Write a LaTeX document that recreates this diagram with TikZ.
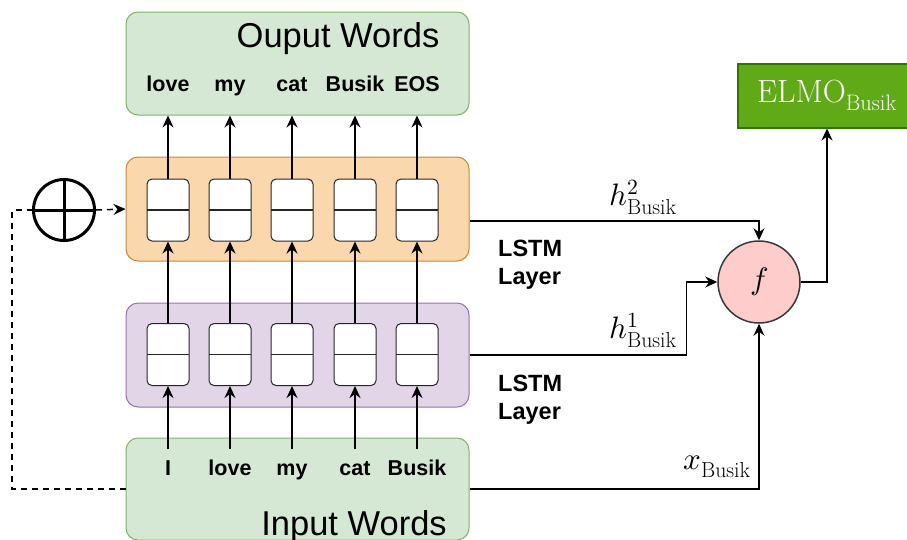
\documentclass[tikz,border=0pt]{standalone}
\usepackage{unicode-math}
\setmathfont{Latin Modern Math}
\setsansfont{Liberation Sans}
\usetikzlibrary{arrows.meta,calc}
\definecolor{gfill}{HTML}{D5E8D4}
\definecolor{gdraw}{HTML}{82B366}
\definecolor{ofill}{HTML}{FAD7AC}
\definecolor{odraw}{HTML}{C8873A}
\definecolor{pfill}{HTML}{E1D5E7}
\definecolor{pdraw}{HTML}{9673A6}
\definecolor{efill}{HTML}{60A917}
\definecolor{edraw}{HTML}{2D7600}
\definecolor{ffill}{HTML}{FFCCCC}
\definecolor{fdraw}{HTML}{36393D}
\begin{document}
\begin{tikzpicture}[x=1pt,y=-1pt,
  bigbox/.style={rectangle, rounded corners=12pt, minimum width=343pt, line width=1pt},
  cellbox/.style={draw=black!85, fill=white, rounded corners=5pt, minimum width=42pt, minimum height=62pt, line width=1pt, inner sep=0pt,
    path picture={\draw[line width=1.5pt] (path picture bounding box.west) -- (path picture bounding box.east);}},
  word/.style={font=\sffamily\bfseries\fontsize{21.5}{24}\selectfont, anchor=base, inner xsep=0pt},
  iword/.style={word, text height=15.4pt, inner ysep=10pt},
  title/.style={font=\sffamily\fontsize{34.5}{40}\selectfont, anchor=base, inner sep=0pt},
  lstm/.style={font=\sffamily\bfseries\fontsize{23.5}{28}\selectfont, align=left, anchor=north west, inner sep=0pt},
  lab/.style={font=\fontsize{31}{34}\selectfont, inner sep=0pt},
  arr/.style={line width=1.5pt, -{Stealth[length=12pt,width=11pt,inset=4pt]}},
  dashline/.style={line width=1.5pt, dash pattern=on 6pt off 5pt}]
\useasboundingbox (0,0) rectangle (907,539);

\node[bigbox, fill=gfill, draw=gdraw, minimum height=103pt] (outbox) at (297.5,63.5) {};
\node[bigbox, fill=ofill, draw=odraw, minimum height=104pt] (ubox) at (297.5,209) {};
\node[bigbox, fill=pfill, draw=pdraw, minimum height=104pt] (lbox) at (297.5,355) {};
\node[bigbox, fill=gfill, draw=gdraw, minimum height=102pt] (inbox) at (297.5,489) {};

\node[title] (otitle) at (338,47) {Ouput Words};
\node[title] (ititle) at (354,535) {Input Words};

\foreach \i/\x/\o/\w in {1/168/love/I, 2/230/my/love, 3/292/cat/my, 4/355/Busik/cat, 5/417/EOS/Busik} {
  \node[cellbox] (cu\i) at (\x,210) {};
  \node[cellbox] (cl\i) at (\x,354.5) {};
  \node[word] (o\i) at (\x,91) {\o};
  \node[iword] (i\i) at (\x,475) {\w};
}
\foreach \i in {1,...,5} {
  \draw[arr] (cu\i.north) -- (cu\i.north |- outbox.south);
  \draw[arr] (cl\i.north) -- (cu\i.south);
  \draw[arr] (i\i.north) -- (cl\i.south);
}

\node[lstm] (l1) at (498,240) {LSTM\\Layer};
\node[lstm] (l2) at (498,375) {LSTM\\Layer};

\node[circle, fill=ffill, draw=fdraw, line width=1.5pt, minimum size=82pt, inner sep=0pt, font=\fontsize{31}{34}\selectfont] (f) at (759,282) {$f$};
\node[rectangle, fill=efill, draw=edraw, line width=2pt, minimum width=178pt, minimum height=64pt, text=white, font=\fontsize{32}{34}\selectfont] (elmo) at (827,95.5) {$\mathrm{ELMO}_{\mathrm{Busik}}$};

\node[circle, draw, line width=3pt, minimum size=61pt, inner sep=0pt,
  path picture={\draw[line width=3pt] (path picture bounding box.north) -- (path picture bounding box.south)
    (path picture bounding box.west) -- (path picture bounding box.east);}] (oplus) at (64,210) {};

\coordinate (dc) at (12,489);
\draw[dashline] (inbox.west) -- (dc) |- (oplus.west);
\draw[arr, dashline] (oplus.east) -- (ubox.west);

\draw[arr] ([yshift=-12pt]ubox.east) -| (f.north);
\draw[arr] (lbox.east) -| ([xshift=-31pt]f.west) -- (f.west);
\draw[arr] (inbox.east) -| (f.south);
\draw[arr] (f.east) -| (elmo.south);

\node[lab] (lh2) at (643,197) {$h^2_{\mathrm{Busik}}$};
\node[lab] (lh1) at (643,330) {$h^1_{\mathrm{Busik}}$};
\node[lab] (lx) at (717,467) {$x_{\mathrm{Busik}}$};
\end{tikzpicture}
\end{document}
